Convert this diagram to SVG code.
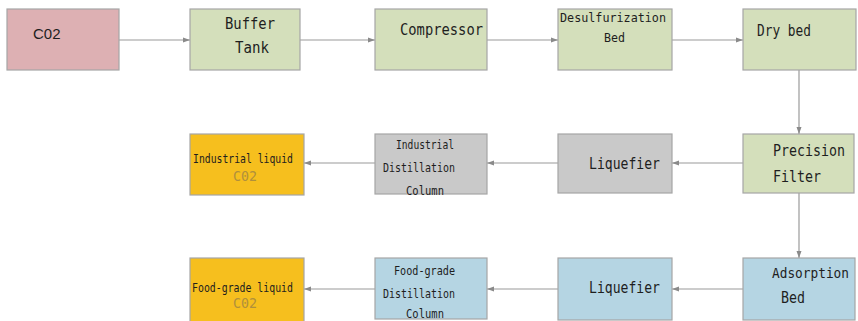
<svg xmlns="http://www.w3.org/2000/svg" width="858" height="321" viewBox="0 0 858 321">
  <defs>
    <marker id="arrow" markerWidth="8" markerHeight="8" refX="7" refY="4" orient="auto" markerUnits="userSpaceOnUse">
      <path d="M0,1.5 L7,4 L0,6.5 Z" fill="#8a8a8a"/>
    </marker>
    <style>
      .box { stroke: #a6a6a6; stroke-width: 1.2; }
      .pink { fill: #ddb0b3; }
      .green { fill: #d4dfbb; }
      .gray { fill: #c9c9c9; }
      .orange { fill: #f6bf1e; }
      .blue { fill: #b5d5e3; }
      .t { font-family: "DejaVu Sans Mono", "Liberation Mono", monospace; fill: #1e1e1e; font-size: 15px; }
      .s { font-size: 12px; }
      .m { font-size: 13.5px; }
      .sans { font-family: "Liberation Sans", Arial, sans-serif; font-size: 15px; }
      .light { fill: #b0903c; font-size: 14px; }
      .edge { stroke: #9a9a9a; stroke-width: 1.2; fill: none; marker-end: url(#arrow); }
    </style>
  </defs>

  <g id="connectors">
    <line class="edge" x1="119" y1="40" x2="190" y2="40"/>
    <line class="edge" x1="300" y1="40" x2="375" y2="40"/>
    <line class="edge" x1="487" y1="40" x2="558" y2="40"/>
    <line class="edge" x1="672" y1="40" x2="743" y2="40"/>
    <line class="edge" x1="799" y1="70" x2="799" y2="134"/>
    <line class="edge" x1="743" y1="163" x2="672" y2="163"/>
    <line class="edge" x1="558" y1="163" x2="487" y2="163"/>
    <line class="edge" x1="375" y1="163" x2="304" y2="163"/>
    <line class="edge" x1="799" y1="193" x2="799" y2="258"/>
    <line class="edge" x1="743" y1="289" x2="672" y2="289"/>
    <line class="edge" x1="558" y1="289" x2="487" y2="289"/>
    <line class="edge" x1="375" y1="289" x2="304" y2="289"/>
  </g>

  <g id="co2">
    <rect class="box pink" x="7" y="9" width="112" height="61"/>
    <text class="sans" x="33" y="39" fill="#1e1e1e">C02</text>
  </g>

  <g id="buffer-tank">
    <rect class="box green" x="190" y="9" width="110" height="61"/>
    <text class="t" x="225" y="29" textLength="50" lengthAdjust="spacingAndGlyphs">Buffer</text>
    <text class="t" x="235" y="53" textLength="34" lengthAdjust="spacingAndGlyphs">Tank</text>
  </g>

  <g id="compressor">
    <rect class="box green" x="375" y="9" width="112" height="61"/>
    <text class="t" x="400" y="35" textLength="83" lengthAdjust="spacingAndGlyphs">Compressor</text>
  </g>

  <g id="desulfurization-bed">
    <rect class="box green" x="558" y="9" width="114" height="61"/>
    <text class="t s" x="560" y="22" textLength="106" lengthAdjust="spacingAndGlyphs">Desulfurization</text>
    <text class="t s" x="604" y="42" textLength="21" lengthAdjust="spacingAndGlyphs">Bed</text>
  </g>

  <g id="dry-bed">
    <rect class="box green" x="743" y="9" width="113" height="61"/>
    <text class="t" x="757" y="36" textLength="54" lengthAdjust="spacingAndGlyphs">Dry bed</text>
  </g>

  <g id="precision-filter">
    <rect class="box green" x="743" y="134" width="111" height="59"/>
    <text class="t" x="773" y="156" textLength="72" lengthAdjust="spacingAndGlyphs">Precision</text>
    <text class="t" x="773" y="182" textLength="48" lengthAdjust="spacingAndGlyphs">Filter</text>
  </g>

  <g id="liquefier-industrial">
    <rect class="box gray" x="558" y="134" width="114" height="59"/>
    <text class="t" x="589" y="169" textLength="71" lengthAdjust="spacingAndGlyphs">Liquefier</text>
  </g>

  <g id="industrial-distillation">
    <rect class="box gray" x="375" y="134" width="112" height="60"/>
    <text class="t s" x="396" y="149" textLength="58" lengthAdjust="spacingAndGlyphs">Industrial</text>
    <text class="t s" x="383" y="172" textLength="72" lengthAdjust="spacingAndGlyphs">Distillation</text>
    <text class="t s" x="406" y="195" textLength="38" lengthAdjust="spacingAndGlyphs">Column</text>
  </g>

  <g id="industrial-liquid-co2">
    <rect class="box orange" x="190" y="134" width="114" height="61"/>
    <text class="t s" x="193" y="163" textLength="100" lengthAdjust="spacingAndGlyphs">Industrial liquid</text>
    <text class="t light" x="233" y="181" textLength="24" lengthAdjust="spacingAndGlyphs">C02</text>
  </g>

  <g id="adsorption-bed">
    <rect class="box blue" x="743" y="258" width="112" height="62"/>
    <text class="t m" x="772" y="278" textLength="77" lengthAdjust="spacingAndGlyphs">Adsorption</text>
    <text class="t" x="781" y="303" textLength="24" lengthAdjust="spacingAndGlyphs">Bed</text>
  </g>

  <g id="liquefier-food">
    <rect class="box blue" x="558" y="258" width="114" height="62"/>
    <text class="t" x="589" y="293" textLength="71" lengthAdjust="spacingAndGlyphs">Liquefier</text>
  </g>

  <g id="food-grade-distillation">
    <rect class="box blue" x="375" y="258" width="112" height="61"/>
    <text class="t s" x="394" y="275" textLength="61" lengthAdjust="spacingAndGlyphs">Food-grade</text>
    <text class="t s" x="383" y="298" textLength="72" lengthAdjust="spacingAndGlyphs">Distillation</text>
    <text class="t s" x="406" y="318" textLength="38" lengthAdjust="spacingAndGlyphs">Column</text>
  </g>

  <g id="food-grade-liquid-co2">
    <rect class="box orange" x="190" y="258" width="114" height="64"/>
    <text class="t s" x="192" y="292" textLength="101" lengthAdjust="spacingAndGlyphs">Food-grade liquid</text>
    <text class="t light" x="233" y="308" textLength="24" lengthAdjust="spacingAndGlyphs">C02</text>
  </g>
</svg>
